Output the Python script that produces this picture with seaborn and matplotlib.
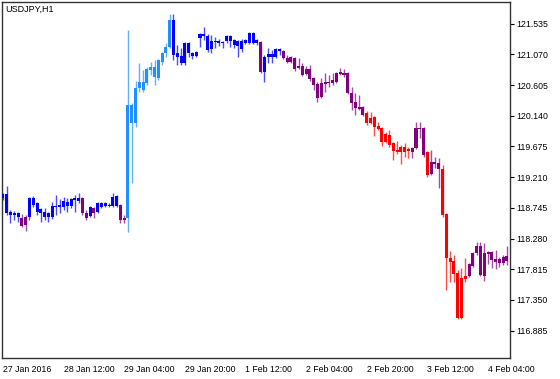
import matplotlib
matplotlib.use("Agg")
import matplotlib.pyplot as plt
import numpy as np
import pandas as pd
import seaborn as sns

symbol_title = "USDJPY,H1"

opens = [118.895, 118.956, 118.683, 118.637, 118.668, 118.592, 118.486, 118.607, 118.895, 118.819,
         118.668, 118.683, 118.607, 118.607, 118.774, 118.758, 118.758, 118.834, 118.774, 118.865,
         118.895, 118.895, 118.668, 118.622, 118.743, 118.683, 118.819, 118.774, 118.789, 118.774,
         118.925, 118.789, 118.562, 118.592, 120.304, 120.031, 120.561, 120.652, 120.637, 120.879,
         120.879, 120.713, 120.955, 121.091, 121.182, 121.591, 121.091, 121.046, 120.940, 121.243,
         121.091, 121.046, 121.318, 121.379, 121.349, 121.152, 121.273, 121.273, 121.243, 121.273,
         121.349, 121.288, 121.197, 121.273, 121.243, 121.243, 121.394, 121.243, 121.258, 120.803,
         121.030, 121.076, 121.030, 121.152, 121.121, 121.015, 120.955, 121.015, 120.864, 120.894,
         120.773, 120.849, 120.713, 120.622, 120.425, 120.652, 120.637, 120.637, 120.652, 120.773,
         120.788, 120.788, 120.485, 120.349, 120.243, 120.273, 120.182, 120.031, 120.122, 119.985,
         119.955, 119.743, 119.849, 119.728, 119.592, 119.667, 119.592, 119.637, 119.592, 119.652,
         119.955, 119.955, 119.592, 119.258, 119.440, 119.425, 119.334, 118.652, 117.986, 117.941,
         117.759, 117.077, 117.713, 117.713, 117.865, 118.062, 118.168, 117.713, 118.077, 118.077,
         117.971, 117.910, 117.910, 117.941]

highs = [118.971, 119.077, 118.713, 118.698, 118.683, 118.652, 118.637, 118.910, 118.925, 118.834,
         118.743, 118.743, 118.683, 118.834, 118.940, 118.880, 118.910, 118.895, 118.895, 118.940,
         118.971, 118.910, 118.713, 118.774, 118.758, 118.834, 118.834, 118.834, 118.819, 118.971,
         118.940, 118.804, 118.637, 121.440, 120.334, 120.667, 120.940, 120.834, 120.879, 120.955,
         120.985, 121.000, 121.106, 121.243, 121.682, 121.682, 121.212, 121.167, 121.258, 121.258,
         121.106, 121.121, 121.394, 121.485, 121.379, 121.364, 121.334, 121.303, 121.273, 121.364,
         121.364, 121.303, 121.288, 121.303, 121.303, 121.409, 121.409, 121.303, 121.273, 121.061,
         121.167, 121.137, 121.167, 121.167, 121.137, 121.061, 121.046, 121.030, 121.015, 120.940,
         120.894, 120.909, 120.728, 120.652, 120.713, 120.788, 120.758, 120.788, 120.803, 120.864,
         120.849, 120.803, 120.576, 120.485, 120.455, 120.288, 120.213, 120.197, 120.137, 120.046,
         119.970, 119.895, 119.925, 119.743, 119.758, 119.698, 119.728, 119.667, 119.667, 120.046,
         120.046, 119.970, 119.607, 119.622, 119.516, 119.501, 119.395, 118.668, 118.092, 118.031,
         117.804, 117.835, 117.986, 117.910, 118.077, 118.228, 118.228, 118.213, 118.092, 118.092,
         118.107, 118.001, 118.031, 118.168]

lows = [118.865, 118.637, 118.516, 118.562, 118.531, 118.456, 118.395, 118.562, 118.758, 118.637,
        118.531, 118.562, 118.531, 118.577, 118.637, 118.668, 118.713, 118.683, 118.743, 118.683,
        118.819, 118.637, 118.562, 118.607, 118.592, 118.668, 118.743, 118.758, 118.758, 118.758,
        118.758, 118.516, 118.516, 118.380, 119.122, 119.970, 120.500, 120.500, 120.606, 120.758,
        120.606, 120.682, 120.909, 121.030, 121.167, 120.985, 120.909, 120.909, 120.909, 121.030,
        121.000, 121.030, 121.182, 121.288, 121.106, 121.091, 121.167, 121.197, 121.167, 121.243,
        121.182, 121.167, 121.030, 121.106, 121.228, 121.228, 121.228, 121.212, 120.788, 120.652,
        120.940, 120.940, 121.015, 121.061, 121.000, 120.940, 120.940, 120.818, 120.849, 120.743,
        120.758, 120.667, 120.531, 120.349, 120.410, 120.500, 120.576, 120.606, 120.637, 120.758,
        120.728, 120.470, 120.228, 120.152, 120.228, 120.137, 120.000, 120.016, 119.834, 119.925,
        119.682, 119.728, 119.667, 119.470, 119.561, 119.410, 119.516, 119.501, 119.501, 119.637,
        119.804, 119.516, 119.213, 119.243, 119.349, 119.046, 118.607, 117.501, 117.622, 117.622,
        117.061, 117.061, 117.622, 117.698, 117.850, 118.031, 117.713, 117.638, 117.895, 117.835,
        117.819, 117.850, 117.880, 117.880]

closes = [118.956, 118.668, 118.637, 118.668, 118.607, 118.471, 118.607, 118.895, 118.789, 118.683,
          118.728, 118.607, 118.668, 118.774, 118.758, 118.789, 118.849, 118.774, 118.880, 118.895,
          118.849, 118.668, 118.592, 118.758, 118.668, 118.819, 118.758, 118.819, 118.774, 118.910,
          118.774, 118.562, 118.592, 120.304, 120.031, 120.561, 120.652, 120.531, 120.849, 120.834,
          120.728, 120.985, 121.091, 121.182, 121.591, 121.061, 121.030, 120.940, 121.243, 121.091,
          121.046, 121.106, 121.379, 121.349, 121.137, 121.273, 121.258, 121.243, 121.258, 121.349,
          121.273, 121.212, 121.273, 121.152, 121.288, 121.394, 121.243, 121.288, 120.803, 121.030,
          121.076, 121.030, 121.152, 121.121, 121.015, 120.955, 121.030, 120.849, 120.894, 120.758,
          120.849, 120.697, 120.606, 120.410, 120.637, 120.622, 120.652, 120.682, 120.788, 120.803,
          120.758, 120.485, 120.334, 120.258, 120.273, 120.152, 120.031, 120.107, 119.970, 119.940,
          119.743, 119.864, 119.698, 119.607, 119.622, 119.592, 119.667, 119.607, 119.652, 119.955,
          119.940, 119.546, 119.243, 119.440, 119.410, 119.334, 118.637, 117.986, 117.926, 117.743,
          117.077, 117.683, 117.668, 117.895, 118.062, 118.168, 117.728, 118.062, 118.047, 117.956,
          117.926, 117.971, 118.001, 118.016]

# indicator state per bar: B = blue, D = dodger blue, P = purple, R = red
states = ("BBBBB" "PP" "BBBBBBBBBBBBBB" "PP" "B" "P" "BBBBBB" "PP"
          "DDDDDDDDDDDD" "BBBBBBBBBBBBBBBBBBBBBBB" "P" "BBBBB"
          "PPPPPPPPPPPPPPPPPPPPPP" "RRRRRRRRRRRR" "PPPP" "R" "PPP"
          "RRRRRRR" "PPPPPPPPPPP")

time_tick_bars = [0, 16, 32, 48, 64, 80, 96, 112, 128]
time_tick_labels = ["27 Jan 2016", "28 Jan 12:00", "29 Jan 04:00", "29 Jan 20:00",
                    "1 Feb 12:00", "2 Feb 04:00", "2 Feb 20:00", "3 Feb 12:00", "4 Feb 04:00"]
price_ticks = [121.535, 121.070, 120.605, 120.140, 119.675, 119.210,
               118.745, 118.280, 117.815, 117.350, 116.885]

palette = {"B": "#0000FF", "D": "#1E90FF", "P": "#800080", "R": "#FF0000"}

df = pd.DataFrame({"open": opens, "high": highs, "low": lows, "close": closes,
                   "state": list(states)})
df["bar"] = np.arange(len(df))
df["body_lo"] = df[["open", "close"]].min(axis=1)
df["body_h"] = (df[["open", "close"]].max(axis=1) - df["body_lo"]).clip(lower=0.016)
df["color"] = df["state"].map(palette)

sns.set_theme(style="white")
plt.rcParams["font.family"] = ["Liberation Sans", "DejaVu Sans"]

fig = plt.figure(figsize=(5.6, 3.79), dpi=100)
ax = fig.add_axes([2 / 560, 21 / 379, 508 / 560, 356 / 379])

ax.vlines(df["bar"], df["low"], df["high"], colors=df["color"], linewidth=1.0, alpha=0.7, zorder=2)
ax.bar(df["bar"], df["body_h"], bottom=df["body_lo"], width=0.8,
       color=df["color"], linewidth=0, zorder=3)

ax.set_xlim(-0.24, 133.8)
ax.set_ylim(116.471, 121.864)

ax.yaxis.tick_right()
ax.set_yticks(price_ticks)
ax.set_yticklabels([f"{v:.3f}" for v in price_ticks])
ax.set_xticks(time_tick_bars)
ax.set_xticklabels(time_tick_labels, ha="left")
ax.tick_params(axis="both", which="both", direction="out", length=3, width=0.8,
               colors="#000000", labelsize=6.3, pad=1.5)
ax.tick_params(axis="x", pad=2)
ax.tick_params(axis="y", left=False, right=True)

for sp in ax.spines.values():
    sp.set_visible(True)
    sp.set_color("#333333")
    sp.set_linewidth(1.0)

ax.grid(False)
ax.text(0.007, 0.992, symbol_title, transform=ax.transAxes, ha="left", va="top",
        fontsize=6.5, color="#000000")

fig.savefig("out.png", dpi=100, facecolor="white")
